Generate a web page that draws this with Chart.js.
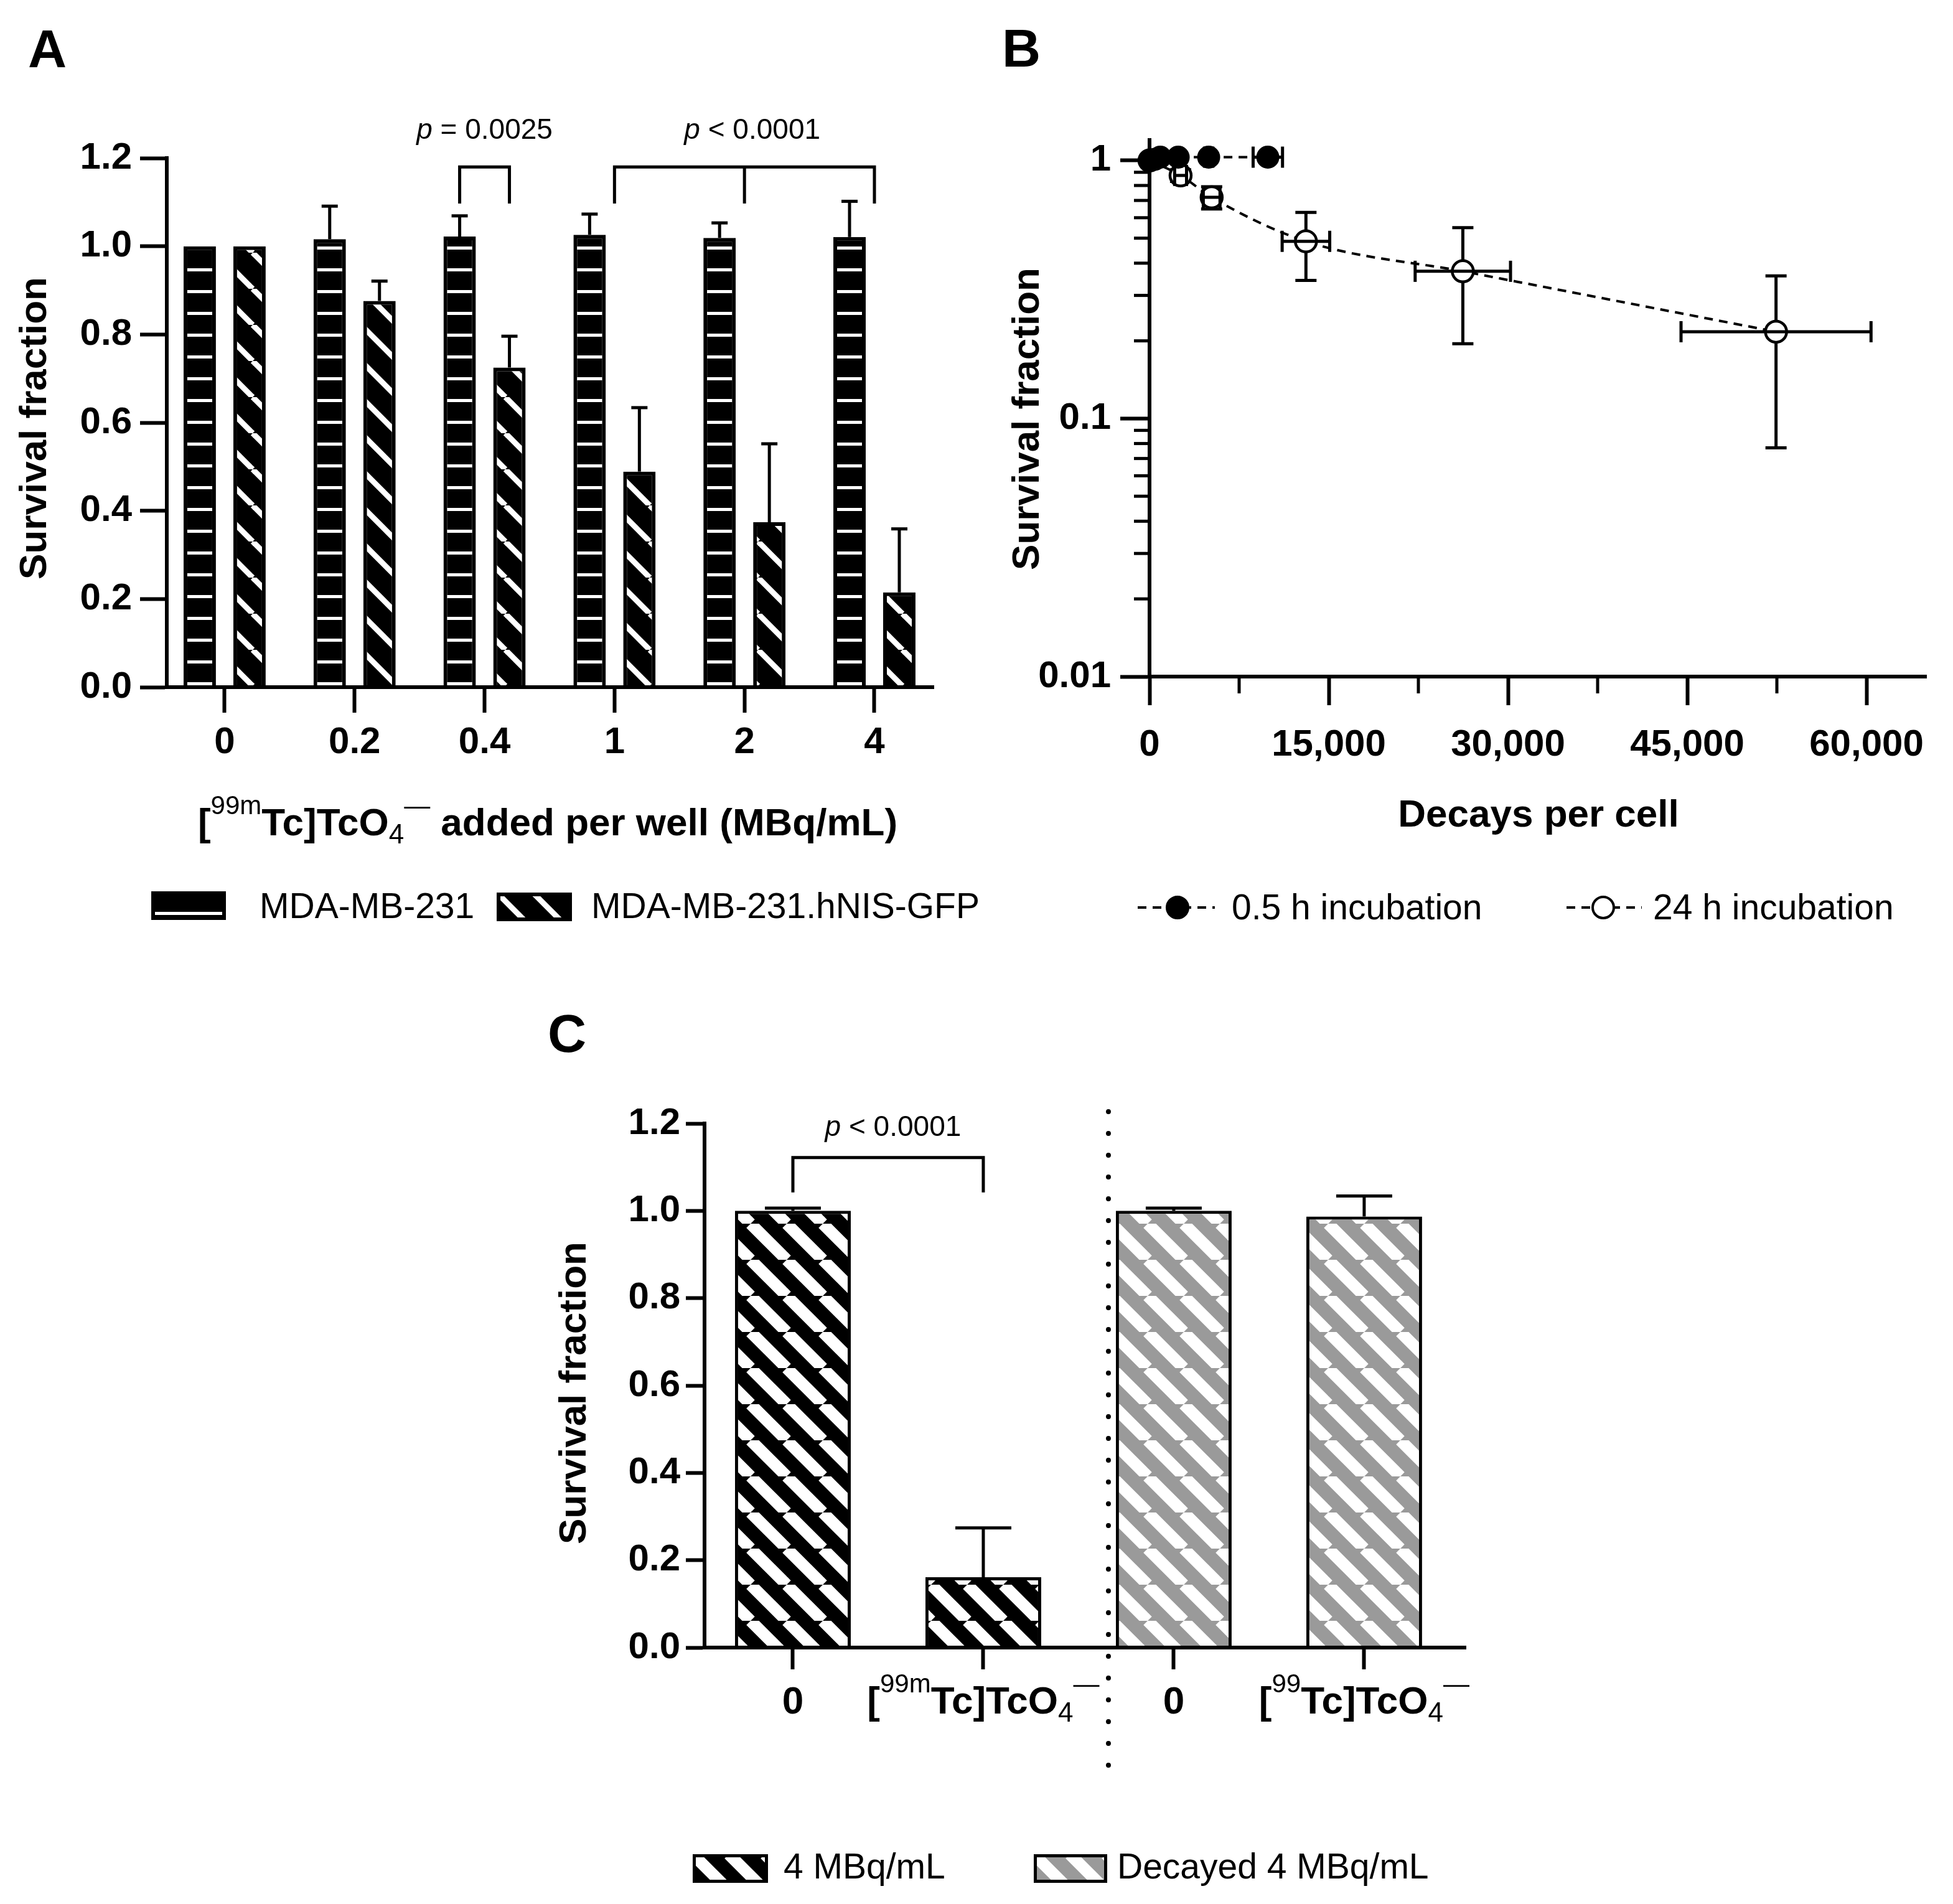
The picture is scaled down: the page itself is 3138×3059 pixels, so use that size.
<!DOCTYPE html>
<html>
<head>
<meta charset="utf-8">
<title>Survival fraction after [99mTc]TcO4- exposure</title>
<script src="https://cdn.jsdelivr.net/npm/chart.js@4.4.1/dist/chart.umd.min.js"></script>
<style>
  html, body { margin: 0; padding: 0; background: #fff; }
  #page { position: relative; width: 3138px; height: 3059px; background: #fff; overflow: hidden; }
  canvas { position: absolute; }
</style>
</head>
<body>
<div id="page">
  <canvas id="chartA" width="1620" height="1530" style="left:0;top:0"></canvas>
  <canvas id="chartB" width="1578" height="1530" style="left:1560px;top:0"></canvas>
  <canvas id="chartC" width="1700" height="1499" style="left:800px;top:1560px"></canvas>
</div>
<script>
// ---- Panel A: survival fraction per activity added ----
const doseLabels = ['0', '0.2', '0.4', '1', '2', '4'];
const mdaMean = [1.0, 1.016, 1.022, 1.026, 1.019, 1.021];
const mdaSD   = [0, 0.075, 0.047, 0.047, 0.034, 0.081];
const nisMean = [1.0, 0.876, 0.725, 0.489, 0.374, 0.215];
const nisSD   = [0, 0.045, 0.071, 0.145, 0.178, 0.144];

// ---- Panel B: survival fraction vs decays per cell ----
const decaysShort   = [0, 450, 900, 2400, 4950, 9900];
const survShort     = [1.0, 1.01, 1.03, 1.03, 1.03, 1.03];
const decaysShortSD = [0, 100, 150, 250, 350, 1230];
const survShortSD   = [0, 0.01, 0.015, 0.015, 0.02, 0.02];
const decaysLong    = [0, 2600, 5200, 13090, 26220, 52430];
const survLong      = [1.0, 0.875, 0.72, 0.486, 0.372, 0.217];
const decaysLongSD  = [0, 500, 700, 1990, 3990, 7950];
const survLongSD    = [0, 0.045, 0.071, 0.143, 0.177, 0.14];
const xMajorB = [0, 15000, 30000, 45000, 60000];
const xMinorB = [7500, 22500, 37500, 52500];
const yMajorB = [0.01, 0.1, 1];
const yMinorB = [0.02, 0.03, 0.04, 0.05, 0.06, 0.07, 0.08, 0.09, 0.2, 0.3, 0.4, 0.5, 0.6, 0.7, 0.8, 0.9];

// ---- Panel C: active vs decayed pertechnetate ----
const activeMean  = [1.0, 0.161];
const activeSD    = [0.006, 0.113];
const decayedMean = [1.0, 0.987];
const decayedSD   = [0.006, 0.047];
const tc99mLabel = [['[', 'main'], ['99m', 'sup'], ['Tc]TcO', 'main'], ['4', 'sub'], ['\u2014', 'sup']];
const tc99Label  = [['[', 'main'], ['99', 'sup'], ['Tc]TcO', 'main'], ['4', 'sub'], ['\u2014', 'sup']];
const labelsC = [[['0', 'main']], tc99mLabel, [['0', 'main']], tc99Label];
const titleA = [...tc99mLabel, [' added per well (MBq/mL)', 'main']];

const FAMILY = '"Liberation Sans", Arial, Helvetica, sans-serif';
Chart.defaults.font.family = FAMILY;
Chart.defaults.color = '#000';

const tickFont = { size: 60, weight: 'bold' };
const richFonts = { main: `bold 62px ${FAMILY}`, sup: `42px ${FAMILY}`, sub: `44px ${FAMILY}` };
const richShift = { main: 0, sup: -34, sub: 13 };
const pFonts = { it: `italic 46px ${FAMILY}`, rg: `46px ${FAMILY}` };
const pShift = { it: 0, rg: 0 };

// diagonal "\" stripes
function hatch(ctx, bg, fg, size, band) {
  const c = document.createElement('canvas');
  c.width = size; c.height = size;
  const g = c.getContext('2d');
  g.fillStyle = bg; g.fillRect(0, 0, size, size);
  g.strokeStyle = fg; g.lineWidth = band;
  for (const o of [-size, 0, size]) {
    g.beginPath(); g.moveTo(o, 0); g.lineTo(o + size, size); g.stroke();
  }
  return ctx.createPattern(c, 'repeat');
}

// black with short white horizontal dashes
function dashes(ctx, period, at, thick) {
  const c = document.createElement('canvas');
  c.width = 8; c.height = period;
  const g = c.getContext('2d');
  g.fillStyle = '#000'; g.fillRect(0, 0, 8, period);
  g.fillStyle = '#fff'; g.fillRect(0, at, 8, thick);
  return ctx.createPattern(c, 'repeat');
}

function line(ctx, pts) {
  ctx.beginPath();
  ctx.moveTo(pts[0][0], pts[0][1]);
  for (let i = 1; i < pts.length; i++) ctx.lineTo(pts[i][0], pts[i][1]);
  ctx.stroke();
}

// text made of runs (superscript / subscript / italic), centred on cx
function rich(ctx, parts, fonts, shifts, cx, y) {
  let total = 0;
  for (const [t, k] of parts) { ctx.font = fonts[k]; total += ctx.measureText(t).width; }
  let x = cx - total / 2;
  ctx.textAlign = 'left';
  ctx.textBaseline = 'alphabetic';
  for (const [t, k] of parts) {
    ctx.font = fonts[k];
    ctx.fillText(t, x, y + shifts[k]);
    x += ctx.measureText(t).width;
  }
}

function vtitle(ctx, text, cx, cy) {
  ctx.save();
  ctx.translate(cx, cy);
  ctx.rotate(-Math.PI / 2);
  ctx.font = `bold 62px ${FAMILY}`;
  ctx.textAlign = 'center';
  ctx.textBaseline = 'middle';
  ctx.fillText(text, 0, 0);
  ctx.restore();
}

function label(ctx, text, x, y, font) {
  ctx.font = font;
  ctx.textAlign = 'left';
  ctx.textBaseline = 'alphabetic';
  ctx.fillText(text, x, y);
}

function swatch(ctx, fill, x, y, w, h, shiftY, border) {
  ctx.save();
  ctx.translate(x, y + shiftY);
  ctx.fillStyle = fill;
  ctx.fillRect(0, -shiftY, w, h);
  ctx.strokeStyle = '#000';
  ctx.lineWidth = border;
  ctx.strokeRect(border / 2, -shiftY + border / 2, w - border, h - border);
  ctx.restore();
}

const baseOptions = {
  responsive: false,
  animation: false,
  devicePixelRatio: 1,
  events: [],
  plugins: { legend: { display: false }, tooltip: { enabled: false } }
};

// ================= Panel A =================
const ctxA = document.getElementById('chartA').getContext('2d');
const patMDA = dashes(ctxA, 35, 11, 5);
const patNIS = hatch(ctxA, '#000', '#fff', 58, 9);

const extrasA = {
  id: 'extrasA',
  afterDraw(chart) {
    const { ctx, scales: { x, y } } = chart;
    ctx.save();
    ctx.fillStyle = '#000';
    ctx.strokeStyle = '#000';
    ctx.lineCap = 'butt';

    // error bars (mean + SD)
    ctx.lineWidth = 5;
    [[mdaMean, mdaSD], [nisMean, nisSD]].forEach(([means, sds], i) => {
      chart.getDatasetMeta(i).data.forEach((bar, j) => {
        if (!sds[j]) return;
        const top = y.getPixelForValue(means[j] + sds[j]);
        line(ctx, [[bar.x, bar.y], [bar.x, top]]);
        line(ctx, [[bar.x - 13, top], [bar.x + 13, top]]);
      });
    });

    // significance brackets
    ctx.lineWidth = 5;
    const yTop = y.getPixelForValue(1.18);
    const yLeg = y.getPixelForValue(1.097);
    const yText = y.getPixelForValue(1.244);
    const b1 = chart.getDatasetMeta(0).data[2].x;
    const b2 = chart.getDatasetMeta(1).data[2].x;
    line(ctx, [[b1, yLeg], [b1, yTop], [b2, yTop], [b2, yLeg]]);
    rich(ctx, [['p', 'it'], [' = 0.0025', 'rg']], pFonts, pShift, (b1 + b2) / 2, yText);
    const c1 = x.getPixelForValue(3), c2 = x.getPixelForValue(4), c3 = x.getPixelForValue(5);
    line(ctx, [[c1, yLeg], [c1, yTop], [c3, yTop], [c3, yLeg]]);
    line(ctx, [[c2, yTop], [c2, yLeg]]);
    rich(ctx, [['p', 'it'], [' < 0.0001', 'rg']], pFonts, pShift, x.getPixelForValue(4.06), yText);

    // titles and panel letter
    label(ctx, 'A', 45, 108, `bold 86px ${FAMILY}`);
    vtitle(ctx, 'Survival fraction', 57, 688);
    rich(ctx, titleA, richFonts, richShift, 880, 1342);

    // legend
    swatch(ctx, patMDA, 243, 1432, 120, 46, 22, 6);
    label(ctx, 'MDA-MB-231', 417, 1475, `57px ${FAMILY}`);
    swatch(ctx, patNIS, 798, 1434, 121, 46, 0, 6);
    label(ctx, 'MDA-MB-231.hNIS-GFP', 950, 1475, `57px ${FAMILY}`);
    ctx.restore();
  }
};

new Chart(ctxA, {
  type: 'bar',
  data: {
    datasets: [
      {
        label: 'MDA-MB-231',
        data: mdaMean.map((v, i) => ({ x: i, y: v })),
        backgroundColor: patMDA,
        borderColor: '#000',
        borderWidth: 6,
        categoryPercentage: 0.766,
        barPercentage: 0.65
      },
      {
        label: 'MDA-MB-231.hNIS-GFP',
        data: nisMean.map((v, i) => ({ x: i, y: v })),
        backgroundColor: patNIS,
        borderColor: '#000',
        borderWidth: 6,
        categoryPercentage: 0.766,
        barPercentage: 0.65
      }
    ]
  },
  options: {
    ...baseOptions,
    layout: { padding: { left: 0, top: 254, right: 120, bottom: 0 }, autoPadding: false },
    scales: {
      x: {
        type: 'linear',
        min: -0.445,
        max: 5.455,
        offset: false,
        afterFit: s => { s.height = 426; },
        grid: { offset: false, drawOnChartArea: false, tickLength: 41, tickWidth: 6, tickColor: '#000' },
        border: { display: true, color: '#000', width: 6, z: 1 },
        ticks: {
          stepSize: 1, includeBounds: false, autoSkip: false, maxRotation: 0, padding: 12,
          font: tickFont, callback: v => doseLabels[v] ?? ''
        }
      },
      y: {
        min: 0,
        max: 1.2,
        afterFit: s => { s.width = 268; },
        grid: { drawOnChartArea: false, tickLength: 43, tickWidth: 6, tickColor: '#000' },
        border: { display: true, color: '#000', width: 6, z: 1 },
        ticks: { stepSize: 0.2, padding: 13, font: tickFont, callback: v => v.toFixed(1) }
      }
    }
  },
  plugins: [extrasA]
});

// ================= Panel B =================
const ctxB = document.getElementById('chartB').getContext('2d');

function errorBarsXY(chart, which) {
  const { ctx, scales: { x, y } } = chart;
  const sets = [
    [decaysShort, survShort, decaysShortSD, survShortSD],
    [decaysLong, survLong, decaysLongSD, survLongSD]
  ];
  ctx.save();
  ctx.strokeStyle = '#000';
  ctx.lineWidth = 5;
  sets.forEach(([xs, ys, xsd, ysd]) => {
    xs.forEach((xv, i) => {
      const px = x.getPixelForValue(xv), py = y.getPixelForValue(ys[i]);
      if (which === 'y' && ysd[i]) {
        const t = y.getPixelForValue(ys[i] + ysd[i]);
        const b = y.getPixelForValue(ys[i] - ysd[i]);
        line(ctx, [[px, t], [px, b]]);
        line(ctx, [[px - 17, t], [px + 17, t]]);
        line(ctx, [[px - 17, b], [px + 17, b]]);
      }
      if (which === 'x' && xsd[i]) {
        const l = x.getPixelForValue(xv - xsd[i]);
        const r = x.getPixelForValue(xv + xsd[i]);
        line(ctx, [[l, py], [r, py]]);
        line(ctx, [[l, py - 17], [l, py + 17]]);
        line(ctx, [[r, py - 17], [r, py + 17]]);
      }
    });
  });
  ctx.restore();
}

const extrasB = {
  id: 'extrasB',
  beforeDatasetsDraw(chart) { errorBarsXY(chart, 'y'); },
  afterDatasetsDraw(chart) { errorBarsXY(chart, 'x'); },
  afterDraw(chart) {
    const { ctx, scales: { x, y }, chartArea } = chart;
    ctx.save();
    ctx.strokeStyle = '#000';
    ctx.fillStyle = '#000';
    ctx.lineWidth = 5;
    // short minor ticks
    yMinorB.forEach(v => {
      const py = y.getPixelForValue(v);
      line(ctx, [[chartArea.left - 3, py], [chartArea.left - 25, py]]);
    });
    xMinorB.forEach(v => {
      const px = x.getPixelForValue(v);
      line(ctx, [[px, chartArea.bottom + 3], [px, chartArea.bottom + 27]]);
    });

    label(ctx, 'B', 50, 107, `bold 86px ${FAMILY}`);
    vtitle(ctx, 'Survival fraction', 92, 673);
    ctx.font = `bold 62px ${FAMILY}`;
    ctx.textAlign = 'center';
    ctx.textBaseline = 'alphabetic';
    ctx.fillText('Decays per cell', 912, 1328);

    // legend
    const items = [
      { x1: 268, x2: 392, cx: 332, fill: '#000', text: '0.5 h incubation', tx: 419 },
      { x1: 957, x2: 1078, cx: 1016, fill: '#fff', text: '24 h incubation', tx: 1096 }
    ];
    items.forEach(it => {
      ctx.lineWidth = 4;
      ctx.setLineDash([14, 10]);
      line(ctx, [[it.x1, 1458], [it.x2, 1458]]);
      ctx.setLineDash([]);
      ctx.beginPath();
      ctx.arc(it.cx, 1458, 17, 0, Math.PI * 2);
      ctx.fillStyle = it.fill;
      ctx.fill();
      ctx.lineWidth = 4;
      ctx.stroke();
      ctx.fillStyle = '#000';
      label(ctx, it.text, it.tx, 1477, `57px ${FAMILY}`);
    });
    ctx.restore();
  }
};

new Chart(ctxB, {
  type: 'scatter',
  data: {
    datasets: [
      {
        label: '0.5 h incubation',
        data: decaysShort.map((v, i) => ({ x: v, y: survShort[i] })),
        showLine: true,
        borderColor: '#000',
        borderWidth: 4,
        borderDash: [14, 10],
        pointRadius: 17,
        pointBackgroundColor: '#000',
        pointBorderColor: '#000',
        pointBorderWidth: 3,
        clip: false
      },
      {
        label: '24 h incubation',
        data: decaysLong.map((v, i) => ({ x: v, y: survLong[i] })),
        showLine: true,
        borderColor: '#000',
        borderWidth: 4,
        borderDash: [14, 10],
        cubicInterpolationMode: 'monotone',
        pointRadius: 17,
        pointBackgroundColor: '#fff',
        pointBorderColor: '#000',
        pointBorderWidth: 4.5,
        clip: false
      }
    ]
  },
  options: {
    ...baseOptions,
    layout: { padding: { left: 0, top: 225, right: 43, bottom: 0 }, autoPadding: false },
    scales: {
      x: {
        type: 'linear',
        min: 0,
        max: 65000,
        afterFit: s => { s.height = 443; },
        afterBuildTicks: s => { s.ticks = xMajorB.map(v => ({ value: v })); },
        grid: { drawOnChartArea: false, tickLength: 46, tickWidth: 6, tickColor: '#000' },
        border: { display: true, color: '#000', width: 6, z: 1 },
        ticks: {
          autoSkip: false, maxRotation: 0, padding: 28,
          font: tickFont, callback: v => v.toLocaleString('en-US')
        }
      },
      y: {
        type: 'logarithmic',
        min: 0.01,
        max: 1.2,
        afterFit: s => { s.width = 287; },
        afterBuildTicks: s => { s.ticks = yMajorB.map(v => ({ value: v })); },
        grid: { drawOnChartArea: false, tickLength: 47, tickWidth: 6, tickColor: '#000' },
        border: { display: true, color: '#000', width: 6, z: 1 },
        ticks: { padding: 15, autoSkip: false, font: tickFont, callback: v => String(v) }
      }
    }
  },
  plugins: [extrasB]
});

// ================= Panel C =================
const ctxC = document.getElementById('chartC').getContext('2d');
const patActive = hatch(ctxC, '#000', '#fff', 58, 19);
const patDecayed = hatch(ctxC, '#9a9a9a', '#fff', 58, 19);

const extrasC = {
  id: 'extrasC',
  afterDraw(chart) {
    const { ctx, scales: { x, y }, chartArea } = chart;
    ctx.save();
    ctx.strokeStyle = '#000';
    ctx.fillStyle = '#000';

    // error bars (mean + SD)
    ctx.lineWidth = 5;
    [[activeMean, activeSD], [decayedMean, decayedSD]].forEach(([means, sds], i) => {
      chart.getDatasetMeta(i).data.forEach((bar, j) => {
        const top = y.getPixelForValue(means[j] + sds[j]);
        line(ctx, [[bar.x, bar.y], [bar.x, top]]);
        line(ctx, [[bar.x - 45, top], [bar.x + 45, top]]);
      });
    });

    // bracket
    const x0 = x.getPixelForValue(0), x1 = x.getPixelForValue(1);
    const yTop = y.getPixelForValue(1.122), yLeg = y.getPixelForValue(1.042);
    line(ctx, [[x0, yLeg], [x0, yTop], [x1, yTop], [x1, yLeg]]);
    rich(ctx, [['p', 'it'], [' < 0.0001', 'rg']], pFonts, pShift, (x0 + x1) / 2 + 8, y.getPixelForValue(1.172));

    // dotted separator between the two groups
    const sx = x.getPixelForValue(1.657);
    ctx.lineWidth = 8;
    ctx.lineCap = 'round';
    ctx.setLineDash([0, 35]);
    line(ctx, [[sx, y.getPixelForValue(1.227)], [sx, y.getPixelForValue(-0.275)]]);
    ctx.setLineDash([]);
    ctx.lineCap = 'butt';

    // category labels with super/subscripts
    labelsC.forEach((parts, i) => {
      rich(ctx, parts, richFonts, richShift, x.getPixelForValue(i), chartArea.bottom + 106);
    });

    label(ctx, 'C', 80, 130, `bold 86px ${FAMILY}`);
    vtitle(ctx, 'Survival fraction', 124, 678);

    // legend
    swatch(ctx, patActive, 313, 1419, 121, 46, 0, 5);
    label(ctx, '4 MBq/mL', 459, 1458, `57px ${FAMILY}`);
    swatch(ctx, patDecayed, 861, 1419, 118, 46, 0, 5);
    label(ctx, 'Decayed 4 MBq/mL', 995, 1458, `57px ${FAMILY}`);
    ctx.restore();
  }
};

new Chart(ctxC, {
  type: 'bar',
  data: {
    datasets: [
      {
        label: '4 MBq/mL',
        data: activeMean.map((v, i) => ({ x: i, y: v })),
        backgroundColor: patActive,
        borderColor: '#000',
        borderWidth: 5,
        grouped: false,
        categoryPercentage: 1,
        barPercentage: 0.608
      },
      {
        label: 'Decayed 4 MBq/mL',
        data: decayedMean.map((v, i) => ({ x: i + 2, y: v })),
        backgroundColor: patDecayed,
        borderColor: '#000',
        borderWidth: 5,
        grouped: false,
        categoryPercentage: 1,
        barPercentage: 0.608
      }
    ]
  },
  options: {
    ...baseOptions,
    layout: { padding: { left: 0, top: 245, right: 145, bottom: 0 }, autoPadding: false },
    scales: {
      x: {
        type: 'linear',
        min: -0.464,
        max: 3.533,
        offset: false,
        afterFit: s => { s.height = 412; },
        grid: { offset: false, drawOnChartArea: false, tickLength: 35, tickWidth: 6, tickColor: '#000' },
        border: { display: true, color: '#000', width: 6, z: 1 },
        ticks: { display: false, stepSize: 1, includeBounds: false, autoSkip: false }
      },
      y: {
        min: 0,
        max: 1.2,
        afterFit: s => { s.width = 332; },
        grid: { drawOnChartArea: false, tickLength: 30, tickWidth: 6, tickColor: '#000' },
        border: { display: true, color: '#000', width: 6, z: 1 },
        ticks: { stepSize: 0.2, padding: 9, font: tickFont, callback: v => v.toFixed(1) }
      }
    }
  },
  plugins: [extrasC]
});
</script>
</body>
</html>
